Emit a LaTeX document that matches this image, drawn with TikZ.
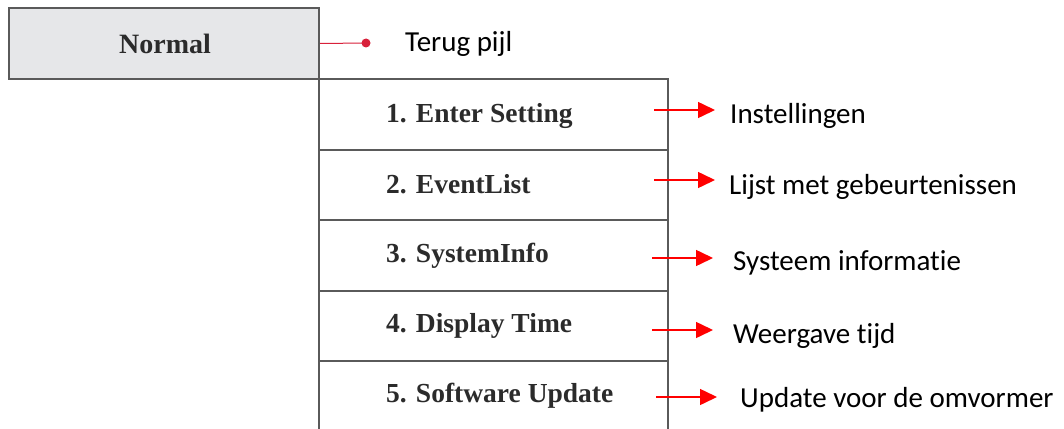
\documentclass[tikz,border=0pt]{standalone}
\usepackage{fontspec}
\setmainfont{Liberation Serif}
\newfontfamily\labelfont[Ligatures={NoCommon}]{Carlito}
\usetikzlibrary{arrows.meta}
\definecolor{boxline}{HTML}{5A5A5A}
\definecolor{boxfill}{HTML}{E6E7E9}
\definecolor{menutext}{HTML}{2B2B2B}
\definecolor{backred}{HTML}{D8203A}
\tikzset{
  headbox/.style={draw=boxline, fill=boxfill, line width=2pt, minimum width=310pt, minimum height=71pt, inner sep=0pt},
  rowbox/.style={draw=boxline, line width=2pt, minimum width=349pt, minimum height=70.5pt, inner sep=0pt},
  menutxt/.style={anchor=base west, inner sep=0pt, font=\fontsize{27.5}{30}\selectfont\bfseries, text=menutext},
  desc/.style={anchor=base west, inner sep=0pt, font=\labelfont\fontsize{29}{32}\selectfont, text=black},
  redarrow/.style={draw=red, line width=1.5pt, -{Triangle[length=17pt,width=16pt]}},
}
\begin{document}
\begin{tikzpicture}[x=1pt,y=-1pt]
\useasboundingbox (0,0) rectangle (1064,428);
\clip (0,0) rectangle (1064,428);
\fill[white] (0,0) rectangle (1064,428);
% header box
\node[headbox] (normal) at (164,43.5) {};
\node[anchor=base, inner sep=0pt, font=\fontsize{28}{30}\selectfont\bfseries, text=menutext] (normaltxt) at (165,54) {Normal};
% menu rows
\node[rowbox] (r1) at (493.5,114.25) {};
\node[rowbox] (r2) at (493.5,184.75) {};
\node[rowbox] (r3) at (493.5,255.25) {};
\node[rowbox] (r4) at (493.5,325.75) {};
\node[rowbox, minimum height=90pt] (r5) at (493.5,406) {};
\node[menutxt] (t1) at (386,122) {1. Enter Setting};
\node[menutxt] (t2) at (386,193) {2. EventList};
\node[menutxt] (t3) at (386,262) {3. SystemInfo};
\node[menutxt] (t4) at (386,332) {4. Display Time};
\node[menutxt] (t5) at (386,402) {5. Software Update};
% back marker
\coordinate (dot) at (366,43);
\draw[backred, line width=1pt] (normal.east) -- (dot);
\fill[backred] (dot) circle (4.5pt);
\node[desc] (terug) at (405,52) {Terug pijl};
% descriptions
\node[desc] (d1) at (730,123) {Instellingen};
\node[desc] (d2) at (729,194) {Lijst met gebeurtenissen};
\node[desc] (d3) at (733,270) {Systeem informatie};
\node[desc] (d4) at (733,343) {Weergave tijd};
\node[desc] (d5) at (740,407) {Update voor de omvormer};
\coordinate (s1) at (654,110);
\coordinate (s2) at (654,180);
\coordinate (s3) at (652,258);
\coordinate (s4) at (652,330);
\coordinate (s5) at (656,397);
\draw[redarrow] (s1) -- (s1 -| 715,0);
\draw[redarrow] (s2) -- (s2 -| 715,0);
\draw[redarrow] (s3) -- (s3 -| 713,0);
\draw[redarrow] (s4) -- (s4 -| 713,0);
\draw[redarrow] (s5) -- (s5 -| 717,0);
\end{tikzpicture}
\end{document}
